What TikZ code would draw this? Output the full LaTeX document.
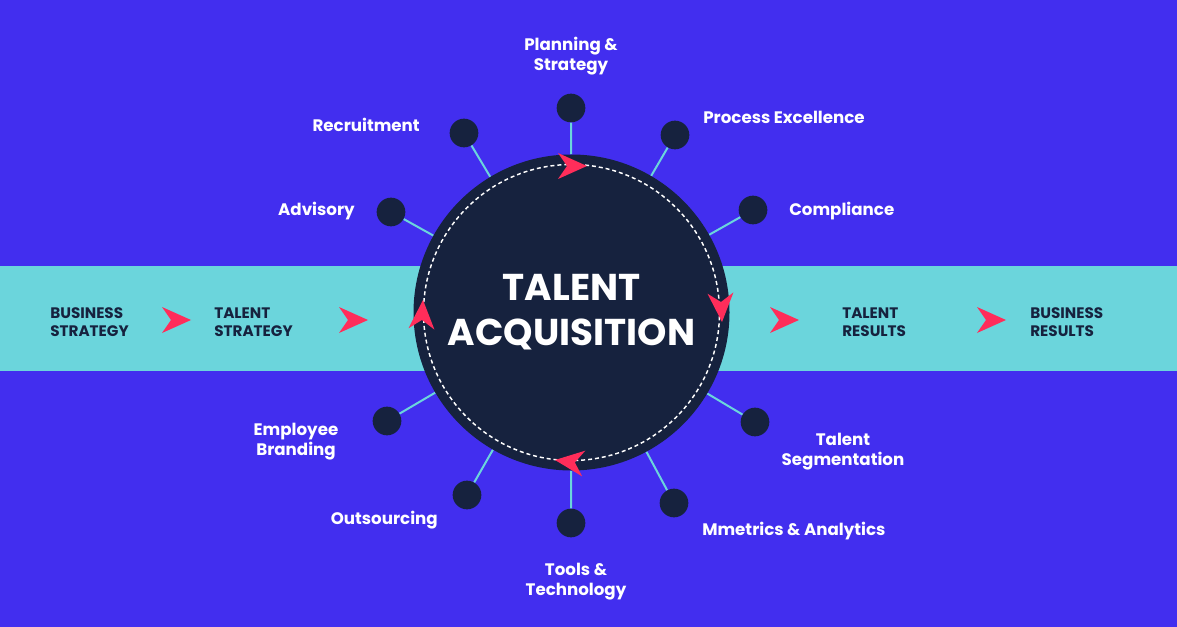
\documentclass[tikz,border=0pt]{standalone}
\usepackage{fontspec}
\setmainfont{Poppins}
\usetikzlibrary{calc}
\definecolor{bgblue}{HTML}{422EEF}
\definecolor{band}{HTML}{6BD5DC}
\definecolor{navy}{HTML}{16223E}
\definecolor{arrred}{HTML}{FF2D5A}
\newcommand\redarrow[2]{\fill[arrred, shift={#1}, rotate=#2] (0,0) -- (-29,-13) -- (-20,0) -- (-29,13) -- cycle;}
\begin{document}
\begin{tikzpicture}[x=0.75pt,y=-0.75pt,
  hub/.style={circle, fill=navy, minimum size=237pt, inner sep=0pt, text=white,
    font=\fontsize{28}{33.75}\selectfont\bfseries, align=center},
  dot/.style={circle, fill=navy, minimum size=21.5pt, inner sep=0pt},
  spoke/.style={draw=band, line width=1.5pt},
  outer/.style={text=white, font=\fontsize{12.5}{15}\selectfont\bfseries, inner sep=0pt, text height=8.8pt, text depth=0pt},
  outerml/.style={outer, align=center},
  bandlbl/.style={text=navy, font=\fontsize{11.4}{13.5}\selectfont\bfseries, inner sep=0pt, align=left, anchor=west, text height=7.8pt, text depth=0pt}]
\useasboundingbox (0,0) rectangle (1177,627);
\fill[bgblue] (0,0) rectangle (1177,627);
\fill[band] (0,266) rectangle (1177,371);
\node[hub] (ta) at (571.5,312.5) {TALENT\\ACQUISITION};
\draw[white, dash pattern=on 3pt off 2.2pt, line width=1.1pt] (ta.center) circle[radius=111pt];
\foreach \n/\p in {pl/{(571,108)},pe/{(675,135)},co/{(753,210)},ts/{(755,422)},ma/{(674,503)},tt/{(571,523)},ou/{(467,495)},eb/{(387,421)},ad/{(391,212)},re/{(464,133)}}{
  \node[dot] (\n) at \p {};
  \draw[spoke] (ta) -- (\n);
}
% cycle arrows
\redarrow{(587,166)}{0}
\redarrow{(722,322)}{-87}
\redarrow{(555,460)}{173}
\redarrow{(423,300)}{87}
% band arrows
\redarrow{(191,320)}{0}
\redarrow{(368,320)}{0}
\redarrow{(799,320)}{0}
\redarrow{(1006,320)}{0}
% band labels
\node[bandlbl] (bs) at (50,331) {BUSINESS\\STRATEGY};
\node[bandlbl] (tsg) at (214,331) {TALENT\\STRATEGY};
\node[bandlbl] (tr) at (842,331) {TALENT\\RESULTS};
\node[bandlbl] (br) at (1030,331) {BUSINESS\\RESULTS};
% outer labels
\node[outerml] (lpl) at (571,65) {Planning \&\\Strategy};
\node[outer, anchor=east] (lre) at (420,126) {Recruitment};
\node[outer, anchor=west] (lpe) at (703,118) {Process Excellence};
\node[outer, anchor=east] (lad) at (355,210) {Advisory};
\node[outer, anchor=west] (lco) at (789,210) {Compliance};
\node[outerml] (leb) at (296,450) {Employee\\Branding};
\node[outerml] (lts) at (843,460) {Talent\\Segmentation};
\node[outer, anchor=east] (lou) at (438,519) {Outsourcing};
\node[outer, anchor=west] (lma) at (702,530) {Mmetrics \& Analytics};
\node[outerml] (ltt) at (576,590) {Tools \&\\Technology};
\end{tikzpicture}
\end{document}
